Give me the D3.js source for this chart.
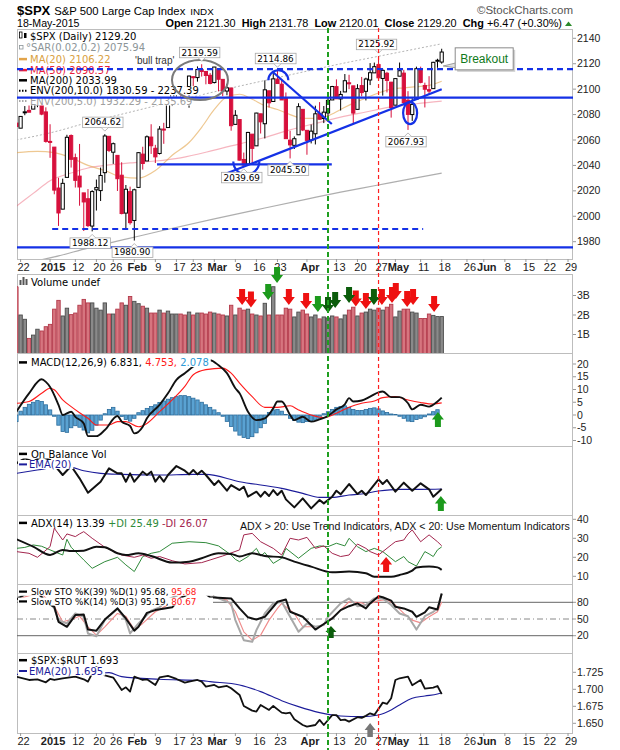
<!DOCTYPE html>
<html>
<head>
<meta charset="utf-8">
<script src="https://cdn.jsdelivr.net/npm/d3@7"></script>
<style>
body { margin: 0; background: #fff; }
svg { display: block; }
</style>
</head>
<body>
<div id="chart"></div>
<script>
// ---- price data, day -1 = 19 Dec 2014, day 0 = 22 Dec 2014 ... day 100 = 18 May 2015
var dates = ["2014-12-19","2014-12-22","2014-12-23","2014-12-24","2014-12-26","2014-12-29","2014-12-30","2014-12-31",
  "2015-01-02","2015-01-05","2015-01-06","2015-01-07","2015-01-08","2015-01-09","2015-01-12","2015-01-13","2015-01-14","2015-01-15","2015-01-16","2015-01-20","2015-01-21","2015-01-22","2015-01-23","2015-01-26","2015-01-27","2015-01-28","2015-01-29","2015-01-30",
  "2015-02-02","2015-02-03","2015-02-04","2015-02-05","2015-02-06","2015-02-09","2015-02-10","2015-02-11","2015-02-12","2015-02-13","2015-02-17","2015-02-18","2015-02-19","2015-02-20","2015-02-23","2015-02-24","2015-02-25","2015-02-26","2015-02-27",
  "2015-03-02","2015-03-03","2015-03-04","2015-03-05","2015-03-06","2015-03-09","2015-03-10","2015-03-11","2015-03-12","2015-03-13","2015-03-16","2015-03-17","2015-03-18","2015-03-19","2015-03-20","2015-03-23","2015-03-24","2015-03-25","2015-03-26","2015-03-27","2015-03-30","2015-03-31",
  "2015-04-01","2015-04-02","2015-04-06","2015-04-07","2015-04-08","2015-04-09","2015-04-10","2015-04-13","2015-04-14","2015-04-15","2015-04-16","2015-04-17","2015-04-20","2015-04-21","2015-04-22","2015-04-23","2015-04-24","2015-04-27","2015-04-28","2015-04-29","2015-04-30",
  "2015-05-01","2015-05-04","2015-05-05","2015-05-06","2015-05-07","2015-05-08","2015-05-11","2015-05-12","2015-05-13","2015-05-14","2015-05-15","2015-05-18"];

var open = [2073.3,2069.3,2081.5,2083.3,2084.3,2087.6,2088.5,2082.1,2058.9,2054.4,2022.2,2005.6,2030.6,2063.5,2046.1,2031.6,2018.4,2013.8,1992.3,2020.8,2020.2,2034.3,2062.9,2050.4,2047.9,2032.3,2002.5,2019.4,
  1996.7,2022.7,2048.9,2043.5,2062.3,2053.5,2049.4,2068.6,2069.8,2088.9,2096.5,2099.2,2099.0,2097.7,2109.8,2109.1,2115.3,2113.9,2110.9,
  2105.2,2115.8,2107.7,2098.5,2100.9,2072.3,2076.1,2044.7,2041.1,2064.6,2055.4,2080.6,2072.8,2098.7,2090.3,2107.9,2103.9,2093.1,2059.9,2055.8,2064.1,2084.1,
  2067.6,2060.0,2064.9,2080.8,2076.9,2081.3,2091.5,2102.0,2092.3,2097.8,2105.0,2102.6,2084.1,2102.8,2098.3,2107.2,2112.8,2119.3,2108.4,2112.5,2105.5,
  2087.4,2110.2,2112.6,2091.3,2080.0,2092.1,2115.6,2102.9,2099.6,2100.4,2122.1,2121.3];
var high = [2077.9,2078.8,2086.7,2087.6,2092.7,2093.5,2088.5,2085.7,2072.4,2054.4,2030.3,2029.6,2064.1,2064.4,2049.3,2056.9,2018.4,2021.4,2020.5,2028.9,2038.3,2064.62,2062.9,2058.0,2047.9,2042.5,2024.6,2023.3,
  2021.7,2050.3,2054.7,2063.6,2072.4,2056.2,2070.9,2073.5,2088.5,2097.0,2101.3,2100.2,2102.1,2110.6,2110.1,2117.9,2119.59,2113.9,2112.7,
  2117.5,2115.8,2107.7,2104.3,2100.9,2083.5,2076.1,2050.1,2066.4,2064.6,2081.4,2080.6,2106.9,2098.7,2113.9,2114.86,2107.6,2097.4,2067.2,2062.8,2088.9,2084.1,
  2067.6,2072.2,2087.0,2089.8,2086.7,2093.3,2102.6,2107.7,2098.6,2111.9,2111.3,2102.6,2103.9,2109.6,2109.0,2120.5,2120.9,2125.92,2116.0,2113.6,2105.5,
  2108.4,2120.95,2115.2,2098.4,2092.9,2117.7,2117.7,2105.1,2110.2,2121.5,2123.9,2131.78];
var low = [2061.9,2069.3,2079.5,2081.9,2084.3,2085.8,2079.5,2057.9,2046.0,2017.3,1992.4,2005.6,2030.6,2038.3,2022.6,2008.3,1988.4,1991.5,1988.12,2004.5,2012.0,2026.4,2050.5,2041.2,2019.9,2001.5,1989.2,1993.4,
  1980.90,2022.7,2036.7,2043.5,2049.0,2041.9,2048.6,2057.0,2069.8,2086.7,2089.8,2092.2,2090.8,2085.4,2102.5,2105.9,2109.9,2103.8,2103.8,
  2104.5,2098.3,2094.5,2095.2,2067.3,2072.3,2044.0,2039.69,2041.1,2041.2,2055.4,2065.1,2061.2,2085.6,2090.3,2104.4,2091.5,2061.0,2045.50,2052.9,2064.1,2067.0,
  2048.4,2057.3,2056.5,2076.1,2073.3,2074.3,2091.5,2092.3,2083.2,2097.8,2100.0,2072.4,2084.1,2094.4,2091.1,2103.2,2112.8,2107.0,2094.9,2097.4,2077.6,
  2087.4,2110.2,2088.5,2067.93,2075.0,2092.1,2104.6,2085.6,2096.0,2100.4,2116.8,2120.01];
var close = [2070.65,2078.54,2082.17,2081.88,2088.77,2090.57,2080.35,2058.90,2058.20,2020.58,2002.61,2025.90,2062.14,2044.81,2028.26,2023.03,2011.27,1992.67,2019.42,2022.55,2032.12,2063.15,2051.82,2057.09,2029.55,2002.16,2021.25,1994.99,
  2020.85,2050.03,2041.51,2062.52,2055.47,2046.74,2068.59,2068.53,2088.48,2096.99,2100.34,2099.68,2097.45,2110.30,2109.66,2115.48,2113.86,2110.74,2104.50,
  2117.39,2107.78,2098.53,2101.04,2071.26,2079.43,2044.16,2040.24,2065.95,2053.40,2081.19,2074.28,2099.50,2089.27,2108.10,2104.42,2091.50,2061.05,2056.15,2061.02,2086.24,2067.89,
  2059.69,2066.96,2080.62,2076.33,2081.90,2091.18,2102.06,2092.43,2095.84,2106.63,2104.99,2081.18,2100.40,2097.29,2107.96,2112.93,2117.69,2108.92,2114.76,2106.85,2085.51,
  2108.29,2114.49,2089.46,2080.15,2088.00,2116.10,2105.33,2099.94,2098.48,2121.10,2122.73,2129.20];
// volume, billions
var volume = [3.45,2.00,1.78,0.80,0.97,1.27,1.18,1.40,1.52,2.30,2.75,1.95,2.35,2.02,2.10,2.50,2.80,2.62,2.62,2.35,2.25,2.62,2.05,2.05,2.30,2.62,2.50,2.95,
  2.70,2.58,2.45,2.35,2.10,2.10,2.25,2.10,2.20,2.05,2.05,2.05,2.00,2.15,2.00,2.10,2.10,2.05,2.15,
  2.10,2.05,2.00,1.95,2.50,2.00,2.35,2.25,2.30,2.05,2.00,1.95,2.60,2.00,3.45,2.00,2.00,2.35,2.30,1.90,2.15,2.25,
  2.05,1.90,2.00,1.80,1.90,1.85,1.95,1.90,1.80,2.00,2.25,2.40,1.95,2.10,2.15,2.30,2.25,2.35,2.25,2.40,2.55,
  1.90,2.20,2.30,2.30,2.15,2.10,1.82,1.82,2.05,1.98,1.92,1.92];

// ---- overlays: [day, value]
var ma20 = [[-1,2050],[4,2051],[8,2050],[12,2046],[16,2040],[20,2036],[24,2031],[28,2030],[32,2036],[36,2048],[40,2058],[43,2070],[46,2084],[49,2094],[52,2096],[55,2092],[58,2087],[61,2084],[64,2080],[67,2077],[70,2077],[73,2079],[76,2084],[79,2089],[82,2093],[85,2097],[88,2100],[91,2101],[94,2102],[97,2103],[100,2106.22]];
var ma50 = [[-1,2008],[3,2018],[7,2028],[12,2034],[16,2038],[20,2040],[26,2042],[32,2043.5],[38,2046],[46,2052],[52,2057],[58,2062],[64,2068],[70,2073],[76,2078],[82,2082],[88,2086],[94,2088.5],[100,2090.57]];
var ma200 = [[-1,1962],[8,1968],[16,1975],[25,1982],[34,1989],[46,1998],[58,2006.5],[68,2013.5],[76,2019],[84,2024],[92,2029],[100,2033.99]];

// ---- indicators: [day, value]
var macdLine = [[-1,1.3],[2,8.5],[5,14],[6,13],[7,11],[9,4],[10,0],[12,1.3],[13,-0.7],[15,-3.3],[16,-8.3],[18,-8.3],[20,-5.9],[23,-0.4],[24,-2.6],[26,-4.3],[27,-7.2],[29,-4.6],[30,-1.3],[33,4],[35,8.5],[37,13.8],[39,16.4],[41,19],[43,21],[45,21.5],[47,19.5],[49,16.4],[51,10.5],[52,8.5],[54,1.3],[56,-2],[58,-1.3],[60,2.6],[61,5.3],[62,5.3],[64,0],[65,-2],[67,-0.7],[69,-2.6],[71,-1.7],[73,-0.4],[75,2.2],[77,4.2],[78,6.6],[79,5.3],[81,5.7],[83,7.2],[85,8.9],[86,9.2],[88,7],[90,7],[92,4.6],[93,2.2],[95,4],[97,3.3],[99,5.3],[100,6.831]];
var macdSignal = [[-1,4.6],[2,5.3],[5,8.5],[7,10.5],[8,9.9],[10,5.9],[12,3.3],[14,0.9],[16,-1.3],[18,-3.9],[21,-3.9],[23,-2.6],[25,-2.6],[28,-4.6],[30,-3.3],[33,1.3],[36,5.9],[39,11.2],[41,15.8],[44,17.8],[48,18.4],[50,16.4],[52,12.5],[55,7.2],[58,3],[61,3],[64,3.6],[66,2],[69,0],[72,-1],[75,0.7],[78,3],[81,4.6],[84,5.5],[86,6.8],[89,7.2],[92,5.9],[95,4.9],[98,4.3],[100,4.753]];
// histogram, one value per day from day -1
var macdHist = [-2.6,1.5,3,4.2,5,5.7,5.3,4,2,-0.5,-4,-6.5,-6.8,-5,-4.2,-4.8,-5.9,-7,-6,-4,-2,0.5,2.2,3,1.5,-0.6,-1.8,-2.4,-1.3,
  0.9,1.7,2.6,3.3,4.0,4.9,5.5,6.2,6.8,7.2,7.6,7.6,7.2,6.6,5.9,5.0,4.0,3.0,2.0,0.9,-0.5,
  -2.5,-4.5,-6.3,-7.9,-8.8,-9.2,-8.5,-7,-5,-3.3,1,2,2.2,1.5,0.2,-1.3,-2.2,-2.8,-3,-2.6,-2.4,-2,-1.3,0.5,
  1.3,2.2,3,3.3,3.6,3,2.2,1.8,1.8,2.2,2.6,2.8,2.4,1.6,1.0,0.4,0.2,-0.5,-1.3,-2.4,-2.6,-1.8,-1.3,-0.7,0.4,1.3,2.078];

var obvLine = [[-1,16],[1,17.5],[3,16.5],[5,18],[7,17],[8,15.5],[10,12.5],[12,15.2],[14,11.5],[16,7.2],[19,10.5],[21,14.5],[23,13],[24,13],[25,10.5],[26,13],[27,10.5],[29,13.5],[30,12.5],[31,13.5],[32,10.5],[33,12.2],[34,10.5],[35,12.5],[37,15.2],[39,13.8],[40,12.7],[41,14],[42,12.7],[43,13.8],[44,12.5],[45,11],[46,9.5],[47,10.8],[49,7.8],[50,9.5],[52,8],[53,9],[54,6],[56,7.5],[57,6],[58,7.5],[59,6.2],[60,8],[61,6.5],[62,7.8],[63,5.2],[65,2.8],[67,5.5],[69,2.5],[71,5],[72,4],[74,6],[75,7.8],[76,6.7],[78,9.8],[80,6.8],[81,7.8],[82,6.5],[85,11.2],[86,9.8],[87,11],[89,7.5],[91,10.2],[93,7.8],[95,10],[97,8.2],[98,6],[100,8.3]];
var obvEma = [[-1,13],[5,14.2],[9,15],[12,14.8],[15,13.8],[19,13],[24,12.7],[33,12.5],[41,12.7],[44,12.7],[52,10.5],[62,8.5],[67,7],[71,5.8],[74,5.8],[78,6.5],[81,6.8],[85,7.7],[90,8.2],[95,8.2],[100,8.3]];

var adx = [[-1,29.5],[3,25.6],[7,21.2],[10,23.9],[12,23.3],[15,23.5],[18,25.6],[20,25.3],[23,22.1],[25,21.2],[28,22.1],[31,20.7],[36,17.2],[40,17.7],[43,19.5],[47,22.1],[50,21.8],[52,20.4],[55,22.1],[58,20.7],[62,20],[65,17.7],[69,15.1],[74,12.1],[78,12.5],[82,11.6],[84,9.8],[88,9.8],[90,10.7],[93,13],[94,14.6],[97,15.1],[99,14.7],[100,13.39]];
var plusDI = [[-1,24.7],[1,25.2],[3,26.5],[5,25.8],[7,23.9],[10,21.2],[11,29.5],[12,25.3],[15,18.6],[17,14.2],[20,17.7],[23,20],[25,16],[27,12.5],[29,20.4],[31,22.1],[33,23],[36,27.4],[40,28.2],[44,27.7],[47,26],[50,21.2],[51,18.9],[52,17.7],[54,20.4],[56,24.7],[57,20.7],[58,22.5],[60,16.8],[62,19.5],[63,24.7],[66,19.5],[69,24.7],[71,26],[73,25.6],[75,27.4],[77,26],[78,30],[80,25.6],[82,23],[84,24.7],[86,23],[89,17.7],[91,20.4],[92,17.7],[94,15.4],[96,23],[97,21.8],[98,20.4],[99,23.9],[100,25.49]];
var minusDI = [[-1,23],[2,22.1],[4,20],[7,25.6],[8,35.3],[10,29.1],[11,32.3],[13,30.9],[14,32.3],[15,33.5],[17,30],[20,25.3],[24,21.2],[27,20],[29,21.2],[31,19.5],[33,20.4],[36,18.2],[39,16.5],[43,17.2],[45,18.6],[48,20.7],[52,23.9],[53,31.8],[55,32.6],[57,28.2],[60,24.7],[62,21.2],[64,30],[66,29.1],[68,30.5],[70,24.7],[72,26],[74,22.1],[76,20.4],[78,21.2],[80,27],[82,24.7],[83,23],[85,21.2],[88,26.5],[89,28.2],[91,29.1],[92,32.3],[93,34.4],[95,28.2],[97,31.8],[99,28.2],[100,26.07]];

var stoK39 = [[-1,85],[1,94],[3,97],[4,98],[5,90],[6,80],[7,76],[8,72],[9,45],[11,36],[13,57],[15,58],[16,31],[18,29],[20,49],[23,69],[25,51],[27,29],[28,36],[30,61],[32,66],[36,71],[38,88],[40,95],[42,97],[44,95],[45,89],[50,87],[52,69],[54,53],[56,49],[58,54],[61,81],[63,85],[64,63],[67,54],[69,39],[70,31],[72,41],[74,51],[76,66],[78,73],[80,78],[82,69],[83,78],[85,91],[86,89],[88,83],[89,72],[91,69],[93,63],[94,54],[96,62],[97,71],[99,67],[100,95.68]];
var stoK14 = [[-1,88],[2,96],[4,97],[6,80],[7,78],[8,69],[9,48],[11,42],[13,60],[15,54],[16,24],[18,19],[20,48],[23,69],[25,48],[26,24],[28,42],[31,65],[33,71],[35,85],[38,95],[41,97],[44,96],[47,87],[50,78],[51,48],[53,12],[55,9],[56,30],[58,60],[60,78],[62,81],[64,54],[66,27],[68,42],[70,36],[72,39],[73,54],[76,78],[78,87],[80,73],[82,75],[84,87],[86,87],[88,75],[90,60],[92,55],[94,31],[96,55],[98,63],[99,69],[100,95.19]];
var stoD3 = [[-1,85],[2,92],[5,95],[7,80],[8,73],[10,45],[12,49],[14,55],[16,36],[18,21],[20,36],[23,60],[25,55],[27,31],[29,42],[32,63],[33,67],[36,80],[39,93],[42,96],[45,93],[47,87],[49,84],[51,63],[53,27],[55,12],[57,21],[59,48],[61,69],[62,78],[65,60],[67,36],[69,36],[71,36],[73,45],[76,66],[78,81],[81,79],[82,75],[85,83],[87,85],[89,75],[91,60],[93,48],[95,43],[97,54],[99,63],[100,80.67]];

var rutRatio = [[-1,1.7186],[2,1.7137],[4,1.7147],[6,1.7103],[7,1.7152],[8,1.7137],[10,1.7162],[13,1.7186],[15,1.7147],[16,1.7113],[17,1.7235],[18,1.733],[20,1.7206],[22,1.7172],[24,1.699],[25,1.7029],[26,1.6966],[27,1.7186],[29,1.7137],[30,1.7147],[32,1.7064],[33,1.7176],[35,1.7196],[36,1.7176],[37,1.7152],[39,1.7098],[40,1.7113],[42,1.7137],[43,1.7113],[44,1.704],[46,1.7064],[47,1.7029],[49,1.7049],[50,1.7015],[52,1.6917],[53,1.6755],[55,1.6686],[56,1.6672],[57,1.677],[59,1.6696],[60,1.6755],[62,1.6657],[63,1.6647],[64,1.6657],[65,1.6559],[67,1.6475],[68,1.645],[70,1.6475],[71,1.655],[72,1.6475],[74,1.662],[75,1.662],[76,1.6546],[77,1.6554],[78,1.6525],[80,1.659],[81,1.658],[82,1.661],[83,1.6647],[84,1.6623],[86,1.6804],[87,1.6785],[88,1.6868],[89,1.7137],[90,1.7162],[92,1.7186],[93,1.706],[95,1.7137],[96,1.701],[98,1.7025],[99,1.7049],[100,1.693]];
var rutEma = [[-1,1.722],[8,1.7225],[18,1.7235],[21,1.7245],[24,1.7186],[33,1.7147],[43,1.7127],[45,1.7113],[52,1.7064],[57,1.6966],[62,1.6833],[66,1.6745],[71,1.6657],[76,1.6608],[81,1.6598],[85,1.6623],[88,1.6696],[90,1.677],[93,1.6868],[96,1.6902],[99,1.6931],[100,1.695]];

// ---- axis ticks
var tickDays   = [0, 7, 13, 18, 22, 27, 32, 37, 41, 46, 51, 56, 61, 68, 75, 80, 85, 89, 95, 100, 106, 110, 115, 120, 125, 130];
var tickLabels = ["22","2015","12","20","26","Feb","9","17","23","Mar","9","16","23","Apr","13","20","27","May","11","18","26","Jun","8","15","22","29"];
var boldTicks  = ["2015","Feb","Mar","Apr","May","Jun"];
var priceTicks = [1980, 2000, 2020, 2040, 2060, 2080, 2100, 2120, 2140];
var volTicks = [1, 2, 3];
var macdTicks = [-10, -5, 0, 5, 10, 15, 20];
var adxTicks = [10, 20, 30, 40];
var stoTicks = [20, 50, 80];
var rutTicks = [1.650, 1.675, 1.700, 1.725];

// ---- annotations (in day / value units)
var peakDays = [20, 43, 61, 85];
var troughDays = [17, 27, 53, 64, 92];
var levelsDashed = [2115.8];
var levelsSolid = [2093.3, 1975.5];
var volArrows = [[52.6,2.51,"r"],[54.7,2.39,"r"],[63.7,2.51,"r"],[67.8,2.31,"r"],[79.6,2.43,"r"],[82.0,2.31,"r"],[85.8,2.51,"r"],[88.2,2.62,"r"],[89.1,2.82,"r"],[91.8,2.41,"r"],[93.2,2.51,"r"],[98.2,2.15,"r"],
  [58.8,2.77,"g"],[60.9,3.64,"g"],[70.6,2.15,"g"],[73.0,2.10,"d"],[74.7,2.36,"d"],[78.0,2.62,"d"],[83.9,2.51,"d"]];

var W = 620, H = 750, L = 17, R = 573;
var SANS = "'Liberation Sans', Arial, sans-serif";
var LEG = "'DejaVu Sans', Verdana, sans-serif";
var arrowColor = { r: "#ee1111", g: "#1c9a1c", d: "#0b5c0b", k: "#777777" };

var svg = d3.select("#chart").append("svg").attr("width", W).attr("height", H)
  .style("font-family", SANS);

var x = d3.scaleLinear().domain([0, 100]).range([20.6, 441.7]);

var panels = [
  { id: "price", top: 29, bot: 259 },
  { id: "vol", top: 274, bot: 353 },
  { id: "macd", top: 353, bot: 446 },
  { id: "obv", top: 446, bot: 515 },
  { id: "adx", top: 515, bot: 584 },
  { id: "sto", top: 584, bot: 653 },
  { id: "rut", top: 653, bot: 733 }
];

var yPrice = d3.scaleLinear().domain([1980, 2140]).range([241.7, 38.3]);
var yVol = d3.scaleLinear().domain([0, 3]).range([354, 295.5]);
var yMacd = d3.scaleLinear().domain([-10, 20]).range([440.5, 364]);
var yObv = d3.scaleLinear().domain([0, 20]).range([516.7, 450]);
var yAdx = d3.scaleLinear().domain([10, 40]).range([576.3, 519.3]);
var ySto = d3.scaleLinear().domain([20, 80]).range([635.7, 602.3]);
var yRut = d3.scaleLinear().domain([1.650, 1.725]).range([723.3, 672.3]);

var defs = svg.append("defs");
var layer = {};
panels.forEach(function (p) {
  defs.append("clipPath").attr("id", "clip-" + p.id)
    .append("rect").attr("x", L).attr("y", p.top).attr("width", R - L).attr("height", p.bot - p.top);
  svg.append("rect").attr("x", L + 0.5).attr("y", p.top + 0.5).attr("width", R - L - 1).attr("height", p.bot - p.top)
    .attr("fill", "#fff").attr("stroke", "#bdbdbd");
  layer[p.id] = svg.append("g").attr("clip-path", "url(#clip-" + p.id + ")");
});

function pathOf(data, ys, curve) {
  var g = d3.line().x(function (d) { return x(d[0]); }).y(function (d) { return ys(d[1]); });
  if (curve) g.curve(curve);
  return g(data);
}
function drawLine(g, data, ys, color, width, opts) {
  opts = opts || {};
  return g.append("path").attr("d", pathOf(data, ys, opts.curve)).attr("fill", "none")
    .attr("stroke", color).attr("stroke-width", width)
    .attr("stroke-opacity", opts.opacity || 1)
    .attr("stroke-dasharray", opts.dash || null)
    .attr("stroke-linejoin", "round");
}

// ---- right axes
function rightAxis(ticks, ys, fmt) {
  ticks.forEach(function (v) {
    var yy = ys(v);
    svg.append("line").attr("x1", R).attr("x2", R + 3).attr("y1", yy).attr("y2", yy).attr("stroke", "#999");
    svg.append("text").attr("x", R + 4).attr("y", yy + 3.6).attr("font-size", 10.5).attr("fill", "#222")
      .text(fmt ? fmt(v) : v);
  });
}
rightAxis(priceTicks, yPrice);
rightAxis(volTicks, yVol, function (v) { return v + "B"; });
rightAxis(macdTicks, yMacd);
rightAxis(adxTicks, yAdx);
rightAxis(stoTicks, ySto);
rightAxis(rutTicks, yRut, d3.format(".3f"));

// ---- x axes
function dateAxis(yLine, yText) {
  tickDays.forEach(function (d, i) {
    var xx = x(d);
    svg.append("line").attr("x1", xx).attr("x2", xx).attr("y1", yLine).attr("y2", yLine + 3).attr("stroke", "#999");
    svg.append("text").attr("x", xx + 3).attr("y", yText).attr("text-anchor", "middle")
      .attr("font-size", 11).attr("fill", "#222")
      .attr("font-weight", boldTicks.indexOf(tickLabels[i]) >= 0 ? "bold" : "normal")
      .text(tickLabels[i]);
  });
}
dateAxis(259, 270.5);
dateAxis(733, 745);

// ---- price panel overlays
var gp = layer.price;
var envUpper = ma200.map(function (d) { return [d[0], d[1] * 1.05]; });
drawLine(gp, envUpper, yPrice, "#b4b4b4", 1, { dash: "2,2", curve: d3.curveMonotoneX });
drawLine(gp, ma200, yPrice, "#9a9a9a", 1.2, { opacity: 0.8, curve: d3.curveMonotoneX });
drawLine(gp, ma50, yPrice, "#ec5a70", 1.2, { opacity: 0.45, curve: d3.curveMonotoneX });
drawLine(gp, ma20, yPrice, "#e2a44a", 1.2, { opacity: 0.6, curve: d3.curveMonotoneX });

// ---- candles
var upColor = "#000", dnColor = "#d7103c";
close.forEach(function (c, i) {
  var d = i - 1, prev = i > 0 ? close[i - 1] : open[i];
  var col = c >= prev ? upColor : dnColor;
  var xx = x(d);
  gp.append("line").attr("x1", xx).attr("x2", xx).attr("y1", yPrice(high[i])).attr("y2", yPrice(low[i]))
    .attr("stroke", col).attr("stroke-width", 1);
  var y0 = yPrice(Math.max(open[i], c)), y1 = yPrice(Math.min(open[i], c));
  gp.append("rect").attr("x", xx - 1.6).attr("y", y0).attr("width", 3.2).attr("height", Math.max(1, y1 - y0))
    .attr("fill", c > open[i] ? "#fff" : col).attr("stroke", col).attr("stroke-width", 1);
});

// ---- volume
var gv = layer.vol;
volume.forEach(function (v, i) {
  var prev = i > 0 ? close[i - 1] : open[i];
  var down = close[i] < prev;
  gv.append("rect").attr("x", x(i - 1) - 1.7).attr("y", yVol(v)).attr("width", 3.4).attr("height", yVol(0) - yVol(v))
    .attr("fill", down ? "#d6757f" : "#8a8a8a").attr("stroke", down ? "#b3394a" : "#4c4c4c").attr("stroke-width", 0.9);
});

// ---- MACD
var gm = layer.macd;
macdHist.forEach(function (v, i) {
  var y0 = yMacd(Math.max(0, v)), y1 = yMacd(Math.min(0, v));
  gm.append("rect").attr("x", x(i - 1) - 1.7).attr("y", y0).attr("width", 3.4).attr("height", Math.max(0.5, y1 - y0))
    .attr("fill", "#5aa2d2").attr("stroke", "#2b6c9c").attr("stroke-width", 0.8);
});
drawLine(gm, macdSignal, yMacd, "#ff1a1a", 1.1, { curve: d3.curveMonotoneX });
drawLine(gm, macdLine, yMacd, "#111", 1.9, { curve: d3.curveMonotoneX });

// ---- OBV
var go = layer.obv;
drawLine(go, obvEma, yObv, "#1c1c9a", 1.1, { curve: d3.curveMonotoneX });
drawLine(go, obvLine, yObv, "#111", 2);

// ---- ADX
var ga = layer.adx;
drawLine(ga, plusDI, yAdx, "#2f8a3a", 1);
drawLine(ga, minusDI, yAdx, "#a3264e", 1);
drawLine(ga, adx, yAdx, "#111", 2, { curve: d3.curveMonotoneX });

// ---- Slow STO
var gs = layer.sto;
[[80, null, "#666"], [20, null, "#666"], [50, "6,3,1,3", "#888"]].forEach(function (h) {
  gs.append("line").attr("x1", L).attr("x2", R).attr("y1", ySto(h[0])).attr("y2", ySto(h[0]))
    .attr("stroke", h[2]).attr("stroke-width", 1).attr("stroke-dasharray", h[1]);
});
drawLine(gs, stoD3, ySto, "#f08a8a", 1.1);
drawLine(gs, stoK14, ySto, "#a8a8a8", 2);
drawLine(gs, stoK39, ySto, "#111", 2);

// ---- $SPX:$RUT
var gr = layer.rut;
drawLine(gr, rutEma, yRut, "#1c1c9a", 1.1, { curve: d3.curveMonotoneX });
drawLine(gr, rutRatio, yRut, "#111", 1.8);

// ---- legends
function legend(x0, y0, parts, size, swatch) {
  var g = svg.append("g");
  var t = g.append("text").attr("x", x0).attr("y", y0).style("font-family", LEG).attr("font-size", size);
  parts.forEach(function (p) { t.append("tspan").attr("fill", p[1]).text(p[0]); });
  var b = t.node().getBBox();
  g.insert("rect", "text").attr("x", L + 1).attr("y", b.y + 1).attr("width", b.x + b.width + 2 - L - 1).attr("height", b.height - 2)
    .attr("fill", "#fff");
  if (swatch) {
    var yy = y0 - size * 0.36;
    g.append("line").attr("x1", 19).attr("x2", 27).attr("y1", yy).attr("y2", yy)
      .attr("stroke", swatch[0]).attr("stroke-width", swatch[1] || 2.5).attr("stroke-dasharray", swatch[2] || null);
  }
  return g;
}

// price legend
var lg1 = legend(30, 39.7, [["$SPX (Daily) 2129.20", "#000"]], 10);
lg1.append("rect").attr("x", 19.5).attr("y", 32).attr("width", 2.5).attr("height", 6).attr("fill", "none").attr("stroke", "#000").attr("stroke-width", 0.8);
lg1.append("rect").attr("x", 24).attr("y", 33).attr("width", 2.5).attr("height", 5).attr("fill", "#000");
var lg2 = legend(26, 51.4, [["\u00b0SAR(0.02,0.2) 2075.94", "#8c9598"]], 10);
lg2.append("rect").attr("x", 19.5).attr("y", 45.5).attr("width", 3.5).attr("height", 3.5).attr("fill", "none").attr("stroke", "#8c9598").attr("stroke-width", 0.8);
legend(30, 62.7, [["MA(20) 2106.22", "#d9a040"]], 10, ["#e2a44a"]);
legend(30, 73.7, [["MA(50) 2090.57", "#e8203c"]], 10, ["#e8203c"]);
legend(30, 83.9, [["MA(200) 2033.99", "#000"]], 10, ["#000"]);
legend(30, 94.4, [["ENV(200,10.0) 1830.59 - 2237.39", "#000"]], 10, ["#000", 2, "1.5,1.5"]);
legend(30, 104.5, [["ENV(200,5.0) 1932.29 - 2135.69", "#a0a0a0"]], 10, ["#a8a8a8", 2, "1.5,1.5"]);

// volume legend
var lv = legend(31, 285.5, [["Volume undef", "#000"]], 10);
[[19.5, 5], [22.5, 8], [25.5, 6]].forEach(function (b) {
  lv.append("rect").attr("x", b[0]).attr("y", 285 - b[1]).attr("width", 2).attr("height", b[1]).attr("fill", "#555");
});

legend(31, 366, [["MACD(12,26,9) 6.831, ", "#000"], ["4.753, ", "#ff1a1a"], ["2.078", "#2e9ad6"]], 10, ["#000"]);
legend(31, 457.5, [["On Balance Vol", "#000"]], 10, ["#000"]);
legend(29, 468, [["EMA(20)", "#1c1c9a"]], 10, ["#1c1c9a", 2]);
legend(31, 526.5, [["ADX(14) 13.39 ", "#000"], ["+DI 25.49 ", "#2f8a3a"], ["-DI 26.07", "#a3264e"]], 10, ["#000"]);
svg.append("text").attr("x", 240).attr("y", 529.6).attr("font-size", 10.6).attr("fill", "#111")
  .text("ADX > 20: Use Trend Indicators, ADX < 20: Use Momentum Indicators");
var ls1 = legend(31, 594.8, [["Slow STO %K(39) %D(1) 95.68, ", "#000"], ["95.68", "#ff1a1a"]], 8.8, ["#000", 2.2]);
var ls2 = legend(31, 604.6, [["Slow STO %K(14) %D(3) 95.19, ", "#000"], ["80.67", "#ff1a1a"]], 8.8, ["#000", 2.2]);
ls1.select("rect").attr("width", 195);
ls2.select("rect").attr("width", 195);
legend(31, 663.8, [["$SPX:$RUT 1.693", "#000"]], 10, ["#000"]);
legend(29, 674.6, [["EMA(20) 1.695", "#1c1c9a"]], 10, ["#1c1c9a", 2]);

// ---- price annotations
var ann = svg.append("g").attr("clip-path", "url(#clip-price)");
levelsDashed.forEach(function (v) {
  ann.append("line").attr("x1", L).attr("x2", R).attr("y1", yPrice(v)).attr("y2", yPrice(v))
    .attr("stroke", "#1431e6").attr("stroke-width", 2.2).attr("stroke-dasharray", "6,4");
});
levelsSolid.forEach(function (v) {
  ann.append("line").attr("x1", L).attr("x2", R).attr("y1", yPrice(v)).attr("y2", yPrice(v))
    .attr("stroke", "#1431e6").attr("stroke-width", 2.2);
});
function seg(d0, v0, d1, v1, dash) {
  ann.append("line").attr("x1", x(d0)).attr("y1", yPrice(v0)).attr("x2", x(d1)).attr("y2", yPrice(v1))
    .attr("stroke", "#1431e6").attr("stroke-width", 2.2).attr("stroke-dasharray", dash || null);
}
seg(7.5, 1990, 95.6, 1990, "6,4");
seg(32.4, 2040.9, 73.9, 2040.9);
seg(49.0, 2033.8, 100, 2099.9);
seg(59.9, 2113.5, 73.9, 2072.6);
// arcs
function arc(d, v, rx, ry, top) {
  var cx = x(d), cy = yPrice(v);
  ann.append("path").attr("d", "M" + (cx - rx) + "," + cy + " A" + rx + "," + ry + " 0 0 " + (top ? 1 : 0) + " " + (cx + rx) + "," + cy)
    .attr("fill", "none").attr("stroke", "#1431e6").attr("stroke-width", 2.2);
}
arc(61.2, 2107, 10, 10, true);
arc(53.6, 2043, 13, 13, false);
ann.append("ellipse").attr("cx", x(42.6)).attr("cy", yPrice(2107.2)).attr("rx", 28).attr("ry", 20)
  .attr("fill", "none").attr("stroke", "#7a7a7a").attr("stroke-width", 2);
ann.append("ellipse").attr("cx", x(92.5)).attr("cy", yPrice(2081.2)).attr("rx", 7).attr("ry", 11)
  .attr("fill", "none").attr("stroke", "#1431e6").attr("stroke-width", 2.2);
svg.append("text").attr("x", 135).attr("y", 63.5).attr("font-size", 10).attr("fill", "#333").text("'bull trap'");

// high / low labels
function priceLabel(d, v, above) {
  var xx = x(d), yy = yPrice(v);
  var g = svg.append("g");
  var t = g.append("text").attr("x", xx - 2).attr("text-anchor", "middle").style("font-family", LEG)
    .attr("font-size", 8.8).attr("fill", "#000").text(v.toFixed(2));
  var by = above ? yy - 17 : yy + 6.5;
  t.attr("y", by + 8.3);
  var b = t.node().getBBox();
  g.insert("rect", "text").attr("x", b.x - 2).attr("y", by).attr("width", b.width + 4).attr("height", 10.5)
    .attr("fill", "#fff").attr("stroke", "#a8a8a8").attr("stroke-width", 0.8);
  var py = above ? by + 10.5 : by;
  g.append("path").attr("d", "M" + (xx - 3.5) + "," + py + " L" + xx + "," + (above ? py + 3.5 : py - 3.5) + " L" + (xx + 3.5) + "," + py)
    .attr("fill", "#fff").attr("stroke", "#a8a8a8").attr("stroke-width", 0.8);
}
peakDays.forEach(function (d) { priceLabel(d, high[d + 1], true); });
troughDays.forEach(function (d) { priceLabel(d, low[d + 1], false); });

// breakout callout
var bx = x(100) + 13.5, byy = yPrice(2132.5);
svg.append("path").attr("d", "M" + (bx + 1) + "," + (byy + 15) + " L" + (x(100) + 1.5) + "," + yPrice(2118.2) + " L" + (bx + 1) + "," + (byy + 20))
  .attr("fill", "#e0e0e0").attr("stroke", "#8a8a8a").attr("stroke-width", 0.8);
svg.append("rect").attr("x", bx + 2).attr("y", byy + 2).attr("width", 58).attr("height", 22).attr("fill", "#d0d0d0");
svg.append("rect").attr("x", bx).attr("y", byy).attr("width", 58).attr("height", 22)
  .attr("fill", "#fff").attr("stroke", "#8a8a8a").attr("stroke-width", 1);
svg.append("text").attr("x", bx + 29).attr("y", byy + 15.5).attr("text-anchor", "middle")
  .attr("font-size", 12).attr("fill", "#0f7a1a").text("Breakout");

// ---- block arrows
function blockArrow(d, ty, dir, color, w, h) {
  var xx = x(d), s = dir === "down" ? -1 : 1, hw = w / 2, sw = w / 4, hh = h * 0.5;
  var pts = [[0, 0], [hw, s * hh], [sw, s * hh], [sw, s * h], [-sw, s * h], [-sw, s * hh], [-hw, s * hh]];
  svg.append("polygon").attr("points", pts.map(function (p) { return (xx + p[0]) + "," + (ty + p[1]); }).join(" "))
    .attr("fill", color);
}
volArrows.forEach(function (a) { blockArrow(a[0], yVol(a[1]), "down", arrowColor[a[2]], 12, 16); });
blockArrow(99.1, yMacd(1.2), "up", arrowColor.g, 12, 15);
blockArrow(99.8, yObv(6.2), "up", arrowColor.g, 12, 15);
blockArrow(86.8, yAdx(20.2), "up", arrowColor.r, 12, 15);
blockArrow(73.7, ySto(37.4), "up", arrowColor.d, 11, 12);
blockArrow(83.0, yRut(1.6504), "up", arrowColor.k, 11, 14);

// ---- vertical event lines
svg.append("line").attr("x1", x(73)).attr("x2", x(73)).attr("y1", 28).attr("y2", 750)
  .attr("stroke", "#1f9e1f").attr("stroke-width", 2).attr("stroke-dasharray", "5,3");
svg.append("line").attr("x1", x(85)).attr("x2", x(85)).attr("y1", 28).attr("y2", 750)
  .attr("stroke", "#ff2020").attr("stroke-width", 1.2).attr("stroke-dasharray", "4,3");

// ---- header
var t1 = svg.append("text").attr("x", 17).attr("y", 14.5).attr("font-size", 13).attr("font-weight", "bold").text("$SPX");
var t1x = 17 + t1.node().getComputedTextLength() + 4;
var t2 = svg.append("text").attr("x", t1x).attr("y", 14.5).attr("font-size", 11.3).text("S&P 500 Large Cap Index");
svg.append("text").attr("x", t1x + t2.node().getComputedTextLength() + 5).attr("y", 14.5).attr("font-size", 9.8).text("INDX");
svg.append("text").attr("x", 17).attr("y", 27.3).attr("font-size", 10.6).text("18-May-2015");
var hdr = svg.append("text").attr("x", 562).attr("y", 27.3).attr("font-size", 10.9).attr("text-anchor", "end")
  .style("white-space", "pre");
[["Open ", true], ["2121.30  ", false], ["High ", true], ["2131.78  ", false], ["Low ", true], ["2120.01  ", false],
 ["Close ", true], ["2129.20  ", false], ["Chg ", true], ["+6.47 (+0.30%)", false]].forEach(function (p) {
  hdr.append("tspan").attr("font-weight", p[1] ? "bold" : "normal").text(p[0]);
});
svg.append("path").attr("d", "M565,26 L568.5,21.5 L572,26 Z").attr("fill", "#2a8a2a");
svg.append("text").attr("x", 573).attr("y", 13.5).attr("font-size", 11.5).attr("fill", "#555")
  .attr("text-anchor", "end").text("\u00a9StockCharts.com");
</script>
</body>
</html>
